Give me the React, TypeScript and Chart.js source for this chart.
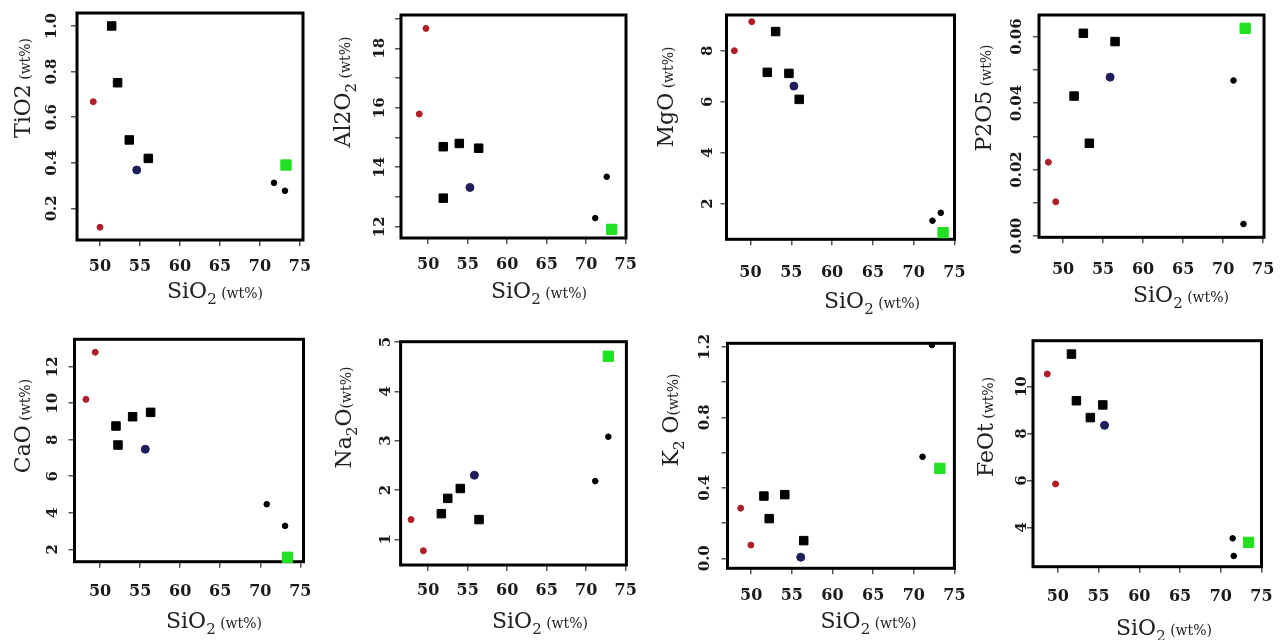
import React, { useEffect, useRef } from 'react';
import { Chart, registerables } from 'chart.js';

Chart.register(...registerables);

type Pt = [number, number];
type Run = [string, 'main' | 'sub' | 'unit'];

// ---------- data ----------
// x axis (SiO2 wt%) tick labels
const SIO2_TICKS = ['50', '55', '60', '65', '70', '75'];

// TiO2
const tio2Red: Pt[] = [[49.16, 0.668], [50.0, 0.117]];
const tio2Square: Pt[] = [[51.46, 1.0], [52.2, 0.751], [53.66, 0.5], [56.04, 0.419]];
const tio2Navy: Pt[] = [[54.59, 0.368]];
const tio2Dot: Pt[] = [[71.75, 0.312], [73.12, 0.277]];
const tio2Green: Pt[] = [[73.25, 0.39]];
const tio2Ticks = ['0.2', '0.4', '0.6', '0.8', '1.0'];

// Al2O3
const al2o3Red: Pt[] = [[49.72, 18.67], [48.87, 15.79]];
const al2o3Square: Pt[] = [[51.91, 14.69], [53.94, 14.8], [56.39, 14.64], [51.91, 12.96]];
const al2o3Navy: Pt[] = [[55.29, 13.32]];
const al2o3Dot: Pt[] = [[72.6, 13.68], [71.15, 12.29]];
const al2o3Green: Pt[] = [[73.23, 11.91]];
const al2o3Ticks = ['12', '14', '16', '18'];

// MgO
const mgoRed: Pt[] = [[50.15, 9.14], [48.02, 8.0]];
const mgoSquare: Pt[] = [[53.08, 8.75], [52.06, 7.15], [54.71, 7.11], [55.97, 6.09]];
const mgoNavy: Pt[] = [[55.32, 6.61]];
const mgoDot: Pt[] = [[73.32, 1.64], [72.3, 1.33]];
const mgoGreen: Pt[] = [[73.6, 0.86]];
const mgoTicks = ['2', '4', '6', '8'];

// P2O5
const p2o5Red: Pt[] = [[48.17, 0.0222], [49.09, 0.0103]];
const p2o5Square: Pt[] = [[52.54, 0.061], [56.5, 0.0585], [51.38, 0.0421], [53.29, 0.0279]];
const p2o5Navy: Pt[] = [[55.88, 0.0478]];
const p2o5Dot: Pt[] = [[71.29, 0.0468], [72.54, 0.0036]];
const p2o5Green: Pt[] = [[72.75, 0.0625]];
const p2o5Ticks = ['0.00', '0.02', '0.04', '0.06'];

// CaO
const caoRed: Pt[] = [[49.39, 12.79], [48.23, 10.21]];
const caoSquare: Pt[] = [[51.98, 8.75], [54.06, 9.26], [56.31, 9.5], [52.23, 7.71]];
const caoNavy: Pt[] = [[55.64, 7.48]];
const caoDot: Pt[] = [[70.81, 4.47], [73.1, 3.28]];
const caoGreen: Pt[] = [[73.39, 1.56]];
const caoTicks = ['2', '4', '6', '8', '10', '12'];

// Na2O
const na2oRed: Pt[] = [[47.82, 1.4], [49.38, 0.77]];
const na2oSquare: Pt[] = [[54.06, 2.03], [52.47, 1.83], [51.66, 1.52], [56.43, 1.4]];
const na2oNavy: Pt[] = [[55.84, 2.3]];
const na2oDot: Pt[] = [[72.8, 3.08], [71.15, 2.18]];
const na2oGreen: Pt[] = [[72.8, 4.71]];
const na2oTicks = ['1', '2', '3', '4', '5'];

// K2O
const k2oRed: Pt[] = [[48.7, 0.284], [49.96, 0.075]];
const k2oSquare: Pt[] = [[51.56, 0.353], [54.13, 0.361], [52.21, 0.225], [56.46, 0.1]];
const k2oNavy: Pt[] = [[56.09, 0.006]];
const k2oDot: Pt[] = [[72.23, 1.21], [71.08, 0.576]];
const k2oGreen: Pt[] = [[73.21, 0.51]];
const k2oTicks = ['0.0', '0.4', '0.8', '1.2'];

// FeOt
const feotRed: Pt[] = [[48.7, 10.54], [49.72, 5.85]];
const feotSquare: Pt[] = [[51.67, 11.39], [52.28, 9.4], [55.52, 9.22], [53.99, 8.68]];
const feotNavy: Pt[] = [[55.73, 8.35]];
const feotDot: Pt[] = [[71.46, 3.53], [71.59, 2.78]];
const feotGreen: Pt[] = [[73.41, 3.36]];
const feotTicks = ['4', '6', '8', '10'];

// axis titles
const X_TITLE: Run[] = [['SiO', 'main'], ['2', 'sub'], [' (wt%)', 'unit']];
const tio2Title: Run[] = [['TiO2', 'main'], [' (wt%)', 'unit']];
const al2o3Title: Run[] = [['Al2O', 'main'], ['2', 'sub'], [' (wt%)', 'unit']];
const mgoTitle: Run[] = [['MgO', 'main'], [' (wt%)', 'unit']];
const p2o5Title: Run[] = [['P2O5', 'main'], [' (wt%)', 'unit']];
const caoTitle: Run[] = [['CaO', 'main'], [' (wt%)', 'unit']];
const na2oTitle: Run[] = [['Na', 'main'], ['2', 'sub'], ['O', 'main'], ['(wt%)', 'unit']];
const k2oTitle: Run[] = [['K', 'main'], ['2', 'sub'], [' O', 'main'], ['(wt%)', 'unit']];
const feotTitle: Run[] = [['FeOt', 'main'], [' (wt%)', 'unit']];

// panel definitions (data + scale ranges)
const PANELS = [
  { groups: [tio2Red, tio2Square, tio2Navy, tio2Dot, tio2Green], x: [47.125, 75.375], y: [0.061, 1.057], step: 0.2, dec: 1, ticks: tio2Ticks, title: tio2Title },
  { groups: [al2o3Red, al2o3Square, al2o3Navy, al2o3Dot, al2o3Green], x: [46.56, 75.04], y: [11.62, 19.12], step: 1, dec: 0, ticks: al2o3Ticks, title: al2o3Title },
  { groups: [mgoRed, mgoSquare, mgoNavy, mgoDot, mgoGreen], x: [47.06, 75.0], y: [0.6, 9.4], step: 2, dec: 0, ticks: mgoTicks, title: mgoTitle },
  { groups: [p2o5Red, p2o5Square, p2o5Navy, p2o5Dot, p2o5Green], x: [47.0, 75.1], y: [-0.0004, 0.0665], step: 0.01, dec: 2, ticks: p2o5Ticks, title: p2o5Title },
  { groups: [caoRed, caoSquare, caoNavy, caoDot, caoGreen], x: [46.8, 75.4], y: [1.32, 13.5], step: 2, dec: 0, ticks: caoTicks, title: caoTitle },
  { groups: [na2oRed, na2oSquare, na2oNavy, na2oDot, na2oGreen], x: [46.5, 75.09], y: [0.48, 5.005], step: 1, dec: 0, ticks: na2oTicks, title: na2oTitle },
  { groups: [k2oRed, k2oSquare, k2oNavy, k2oDot, k2oGreen], x: [47.08, 75.0], y: [-0.057, 1.22], step: 0.2, dec: 1, ticks: k2oTicks, title: k2oTitle },
  { groups: [feotRed, feotSquare, feotNavy, feotDot, feotGreen], x: [46.95, 75.0], y: [2.32, 11.96], step: 2, dec: 0, ticks: feotTicks, title: feotTitle },
];

// ---------- layout & style ----------
const LAYOUT = [
  { canvas: [0, 0, 320, 320], box: [77, 13, 303, 240], yLab: 25, xLab: 26.7, yTitle: [21.7, 88], xTitle: [215, 297.7] },
  { canvas: [320, 0, 320, 320], box: [401, 15, 626, 238], yLab: 21, xLab: 27, yTitle: [341.7, 92], xTitle: [539, 298] },
  { canvas: [640, 0, 335, 320], box: [726.5, 15, 954.5, 239.3], yLab: 18, xLab: 34, yTitle: [665, 97], xTitle: [872, 308] },
  { canvas: [960, 0, 322, 320], box: [1039, 15, 1264, 237.3], yLab: 22, xLab: 33, yTitle: [982.7, 98], xTitle: [1181, 302] },
  { canvas: [0, 320, 320, 320], box: [74.5, 339.3, 303.5, 561.7], yLab: 21, xLab: 30, yTitle: [21.7, 426], xTitle: [214, 628] },
  { canvas: [320, 320, 320, 320], box: [400.6, 341.7, 626.4, 565], yLab: 14, xLab: 25.5, yTitle: [343.3, 417.5], xTitle: [540, 628] },
  { canvas: [640, 320, 335, 320], box: [727.5, 343.3, 954.4, 568.3], yLab: 22.5, xLab: 27.4, yTitle: [670, 420], xTitle: [868.5, 628] },
  { canvas: [960, 320, 322, 320], box: [1033, 340.7, 1261.5, 566.7], yLab: 11, xLab: 30, yTitle: [985, 427], xTitle: [1164, 635] },
];

const GROUP_STYLES = [
  { pointStyle: 'circle', radius: 3, color: '#b01e2a' },
  { pointStyle: 'rect', radius: 6, color: '#000000' },
  { pointStyle: 'circle', radius: 4, color: '#1e1e5a' },
  { pointStyle: 'circle', radius: 2.8, color: '#000000' },
  { pointStyle: 'rect', radius: 7.3, color: '#22e022' },
];

const FAMILY = '"DejaVu Serif", serif';
const TICK_LEN = 6;
const X_TICK_SIZE = 16;
const Y_TICK_SIZE = 15;
const RUN_FONTS: Record<string, { size: number; dy: number }> = {
  main: { size: 22, dy: 0 },
  sub: { size: 15, dy: 6 },
  unit: { size: 14, dy: 0 },
};

function drawRuns(ctx: CanvasRenderingContext2D, runs: Run[], cx: number, baseline: number) {
  let total = 0;
  const widths = runs.map(([t, k]) => {
    ctx.font = `${RUN_FONTS[k].size}px ${FAMILY}`;
    const w = ctx.measureText(t).width;
    total += w;
    return w;
  });
  let x = cx - total / 2;
  runs.forEach(([t, k], i) => {
    ctx.font = `${RUN_FONTS[k].size}px ${FAMILY}`;
    ctx.fillText(t, x, baseline + RUN_FONTS[k].dy);
    x += widths[i];
  });
}

function Panel({ index }: { index: number }) {
  const ref = useRef<HTMLCanvasElement | null>(null);
  const panel = PANELS[index];
  const lay = LAYOUT[index];
  const [cl, ct, cw, ch] = lay.canvas;

  useEffect(() => {
    const [bl, bt, br, bb] = lay.box;
    const yW = bl - cl;
    const xH = ct + ch - bb;
    const padTop = bt - ct;
    const padRight = cl + cw - br;

    const mctx = document.createElement('canvas').getContext('2d')!;
    mctx.font = `bold ${Y_TICK_SIZE}px ${FAMILY}`;
    const widest = Math.max(...panel.ticks.map((t) => mctx.measureText(t).width));
    const yPad = lay.yLab - TICK_LEN - widest / 2;
    const xPad = lay.xLab - TICK_LEN - (X_TICK_SIZE * 1.2) / 2;

    const framePlugin = {
      id: 'frameTitles' + index,
      beforeDatasetsDraw(chart: any) {
        const { ctx, chartArea: a } = chart;
        ctx.save();
        ctx.strokeStyle = '#000';
        ctx.lineWidth = 3;
        ctx.strokeRect(a.left, a.top, a.right - a.left, a.bottom - a.top);
        ctx.restore();
      },
      afterDraw(chart: any) {
        const ctx: CanvasRenderingContext2D = chart.ctx;
        ctx.save();
        ctx.fillStyle = '#222';
        ctx.textAlign = 'left';
        ctx.textBaseline = 'alphabetic';
        drawRuns(ctx, X_TITLE, lay.xTitle[0] - cl, lay.xTitle[1] - ct);
        ctx.translate(lay.yTitle[0] - cl, lay.yTitle[1] - ct);
        ctx.rotate(-Math.PI / 2);
        drawRuns(ctx, panel.title, 0, 8);
        ctx.restore();
      },
    };

    const datasets = panel.groups.map((pts, gi) => {
      const st = GROUP_STYLES[gi];
      return {
        data: pts.map(([x, y]) => ({ x, y })),
        pointStyle: st.pointStyle,
        pointRadius: st.radius,
        pointBackgroundColor: st.color,
        pointBorderColor: st.color,
        pointBorderWidth: 1,
        showLine: false,
        clip: false,
      };
    });

    const tickGrid = {
      display: true,
      drawOnChartArea: false,
      drawTicks: true,
      tickLength: TICK_LEN,
      color: '#555',
      lineWidth: 1.5,
    };

    const chart = new Chart(ref.current!, {
      type: 'scatter',
      data: { datasets } as any,
      plugins: [framePlugin],
      options: {
        animation: false,
        responsive: false,
        devicePixelRatio: 1,
        events: [],
        layout: { padding: { top: padTop, right: padRight, left: 0, bottom: 0 } },
        plugins: { legend: { display: false }, tooltip: { enabled: false } },
        scales: {
          x: {
            type: 'linear',
            min: panel.x[0],
            max: panel.x[1],
            afterFit: (s: any) => {
              s.height = xH;
              s.paddingLeft = 0;
              s.paddingRight = 0;
            },
            border: { display: false },
            grid: tickGrid,
            ticks: {
              stepSize: 5,
              includeBounds: false,
              autoSkip: false,
              maxRotation: 0,
              minRotation: 0,
              padding: xPad,
              color: '#1a1a1a',
              font: { family: FAMILY, size: X_TICK_SIZE, weight: 'bold' },
              callback: (v: any) => {
                const s = String(Math.round(Number(v)));
                return SIO2_TICKS.includes(s) ? s : '';
              },
            },
          },
          y: {
            type: 'linear',
            min: panel.y[0],
            max: panel.y[1],
            afterFit: (s: any) => {
              s.width = yW;
              s.paddingTop = 0;
              s.paddingBottom = 0;
            },
            border: { display: false },
            grid: tickGrid,
            ticks: {
              stepSize: panel.step,
              includeBounds: false,
              autoSkip: false,
              minRotation: 90,
              maxRotation: 90,
              crossAlign: 'center',
              padding: yPad,
              color: '#1a1a1a',
              font: { family: FAMILY, size: Y_TICK_SIZE, weight: 'bold' },
              callback: (v: any) => {
                const s = Number(v).toFixed(panel.dec);
                return panel.ticks.includes(s) ? s : '';
              },
            },
          },
        },
      } as any,
    });
    return () => chart.destroy();
  }, []);

  return (
    <canvas
      ref={ref}
      width={cw}
      height={ch}
      style={{ position: 'absolute', left: cl, top: ct, width: cw, height: ch }}
    />
  );
}

export default function App() {
  return (
    <div
      style={{
        position: 'absolute',
        left: 0,
        top: 0,
        width: 1282,
        height: 640,
        background: '#ffffff',
        overflow: 'hidden',
      }}
    >
      {PANELS.map((_, i) => (
        <Panel key={i} index={i} />
      ))}
    </div>
  );
}
